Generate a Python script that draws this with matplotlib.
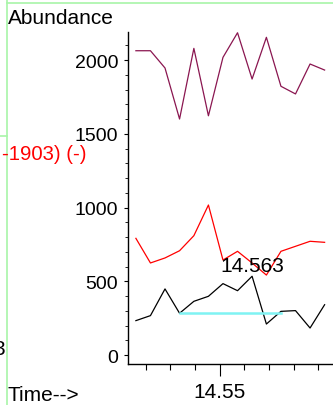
import matplotlib.pyplot as plt
from matplotlib.lines import Line2D
from matplotlib.ticker import MultipleLocator, FixedLocator

plt.rcParams['font.family'] = ['Liberation Sans', 'DejaVu Sans']

# Time axis (same sampling for all three series)
time = [14.54661, 14.54720, 14.54779, 14.54838, 14.54896, 14.54955, 14.55014,
        14.55073, 14.55132, 14.55190, 14.55249, 14.55308, 14.55367, 14.55426]

# Abundance series
purple = [2063, 2063, 1946, 1600, 2079, 1622, 2018,
          2185, 1871, 2154, 1822, 1770, 1973, 1932]
red = [791, 624, 658, 707, 809, 1017, 644,
       703, 624, 542, 703, 737, 771, 764]
black = [233, 267, 448, 283, 364, 398, 484,
         436, 534, 210, 296, 301, 183, 341]

# cursor line between two samples of the black series
cursor_start, cursor_end = 3, 10
cursor_label = '14.563'

fig = plt.figure(figsize=(3.33, 4.06), dpi=100)
ax = fig.add_axes([128 / 333, 1 - 365 / 406, 1 - 128 / 333, (365 - 33) / 406])

ax.plot(time, purple, color='#8a1650', lw=0.9)
ax.plot(time, red, color='#ff0000', lw=0.9)
ax.plot(time, black, color='black', lw=0.9)
ax.plot([time[cursor_start], time[cursor_end]],
        [black[cursor_start], black[cursor_start]], color='#7ff3f3', lw=1.8)

ax.set_xlim(14.54629, 14.55460)
ax.set_ylim(-61, 2190)

for side in ('top', 'right'):
    ax.spines[side].set_visible(False)
ax.spines['left'].set_linewidth(1.0)
ax.spines['bottom'].set_linewidth(1.0)

ax.yaxis.set_major_locator(MultipleLocator(500))
ax.yaxis.set_minor_locator(MultipleLocator(100))
ax.xaxis.set_major_locator(FixedLocator([14.55]))
ax.xaxis.set_minor_locator(MultipleLocator(0.001))
ax.xaxis.set_major_formatter(lambda v, p: f'{v:.2f}')

ax.tick_params(axis='y', which='major', length=3, width=0.8, pad=4, labelsize=14)
ax.tick_params(axis='y', which='minor', length=2, width=0.6)
ax.tick_params(axis='x', which='major', length=8.5, width=0.8, pad=4.5, labelsize=15)
ax.tick_params(axis='x', which='minor', length=4.5, width=0.8)

# cursor readout, placed in figure pixels
fig.text(220 / 333, 1 - 271.5 / 406, cursor_label, fontsize=15,
         va='baseline', ha='left')

# figure-level labels
fig.text(8 / 333, 1 - 24 / 406, 'Abundance', fontsize=15, va='baseline', ha='left')
fig.text(8 / 333, 1 - 401 / 406, 'Time-->', fontsize=15, va='baseline', ha='left')
fig.text(87 / 333, 1 - 160 / 406, '-1903) (-)', fontsize=14.6, color='red',
         va='baseline', ha='right')
fig.text(5 / 333, 1 - 355 / 406, '3', fontsize=15, va='baseline', ha='right')

# light green frame lines
green = '#a8f5a8'
fig.add_artist(Line2D([6.7 / 333, 6.7 / 333], [0, 1], color=green, lw=1.2))
fig.add_artist(Line2D([6.7 / 333, 1], [1 - 4 / 406, 1 - 4 / 406], color=green, lw=1.2))
fig.add_artist(Line2D([0, 6.7 / 333], [1 - 136.7 / 406, 1 - 136.7 / 406], color=green, lw=1.2))

fig.savefig('out.png', dpi=100)
